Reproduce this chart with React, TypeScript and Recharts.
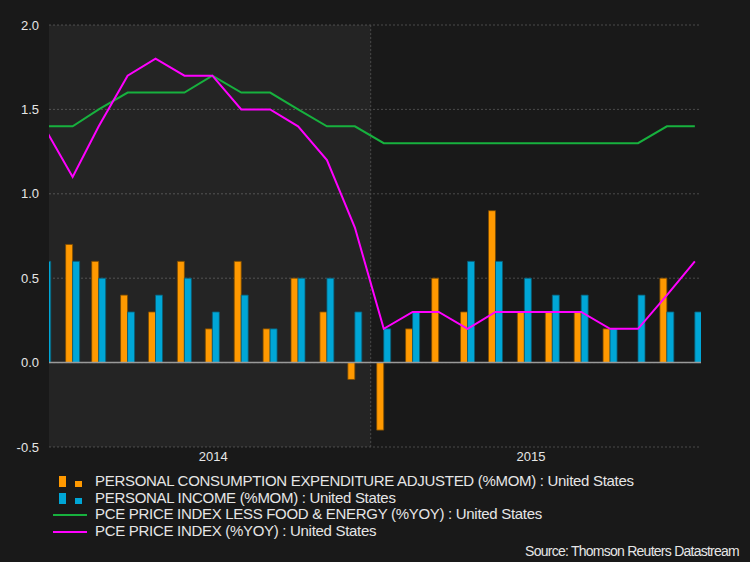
import { ComposedChart, Bar, Line, XAxis, YAxis, CartesianGrid, ReferenceArea, ReferenceLine } from 'recharts';

// months shown, Jan 2014 .. Dec 2015 (points sit mid-month)
const months = [
    '2014-01', '2014-02', '2014-03', '2014-04', '2014-05', '2014-06',
    '2014-07', '2014-08', '2014-09', '2014-10', '2014-11', '2014-12',
    '2015-01', '2015-02', '2015-03', '2015-04', '2015-05', '2015-06',
    '2015-07', '2015-08', '2015-09', '2015-10', '2015-11', '2015-12',
];

const pceMom = [0.4, 0.7, 0.6, 0.4, 0.3, 0.6, 0.2, 0.6, 0.2, 0.5, 0.3, -0.1, -0.4, 0.2, 0.5, 0.3, 0.9, 0.3, 0.3, 0.3, 0.2, 0, 0.5, null];
const incomeMom = [0.6, 0.6, 0.5, 0.3, 0.4, 0.5, 0.3, 0.4, 0.2, 0.5, 0.5, 0.3, 0.2, 0.3, 0, 0.6, 0.6, 0.5, 0.4, 0.4, 0.2, 0.4, 0.3, 0.3];
const coreYoy = [1.4, 1.4, 1.5, 1.6, 1.6, 1.6, 1.7, 1.6, 1.6, 1.5, 1.4, 1.4, 1.3, 1.3, 1.3, 1.3, 1.3, 1.3, 1.3, 1.3, 1.3, 1.3, 1.4, 1.4];
const pceYoy = [1.4, 1.1, 1.4, 1.7, 1.8, 1.7, 1.7, 1.5, 1.5, 1.4, 1.2, 0.8, 0.2, 0.3, 0.3, 0.2, 0.3, 0.3, 0.3, 0.3, 0.2, 0.2, 0.4, 0.6];

const yTicks = [-0.5, 0, 0.5, 1, 1.5, 2];
const years = ['2014', '2015'];

const legendItems = [
    { label: 'PERSONAL CONSUMPTION EXPENDITURE ADJUSTED (%MOM) : United States', color: '#ff9900', kind: 'bar' },
    { label: 'PERSONAL INCOME (%MOM) : United States', color: '#00a6d6', kind: 'bar' },
    { label: 'PCE PRICE INDEX LESS FOOD & ENERGY (%YOY) : United States', color: '#17b13e', kind: 'line' },
    { label: 'PCE PRICE INDEX (%YOY) : United States', color: '#ff00ff', kind: 'line' },
];

const DAY = 86400000;
const T0 = Date.UTC(2014, 0, 1);
const dayOf = (ym: string) => {
    const [y, m] = ym.split('-').map(Number);
    return (Date.UTC(y, m - 1, 15) - T0) / DAY;
};

// visible window in days since 1 Jan 2014 (chart is cut a bit into Jan 2014)
const XMIN = 19.6;
const XMAX = 719.6;
const YEAR_SPLIT = 365;
// where the year labels sit (days)
const yearTicks = [196, 537];

const data = months.map((m, i) => ({
    t: dayOf(m),
    pce: pceMom[i],
    income: incomeMom[i],
    core: coreYoy[i],
    yoy: pceYoy[i],
}));

const font = '"Liberation Sans", Arial, sans-serif';

export default function App() {
    return (
        <div style={{ position: 'fixed', left: 0, top: 0, width: 750, height: 562, background: '#191919', fontFamily: font, overflow: 'hidden' }}>
            <ComposedChart
                width={750}
                height={480}
                data={data}
                margin={{ top: 25, right: 49, left: 8, bottom: 3 }}
                barGap={0}
                barSize={7}
            >
                <ReferenceArea x1={XMIN} x2={YEAR_SPLIT} y1={-0.5} y2={2} fill="#ffffff" fillOpacity={0.05} stroke="none" />
                <CartesianGrid vertical={false} stroke="#4a4a4a" strokeDasharray="2 2" />
                <ReferenceLine x={YEAR_SPLIT} stroke="#4a4a4a" strokeDasharray="2 2" />
                <XAxis
                    dataKey="t"
                    type="number"
                    domain={[XMIN, XMAX]}
                    allowDataOverflow
                    ticks={yearTicks}
                    tickFormatter={(v: number) => (v < YEAR_SPLIT ? years[0] : years[1])}
                    axisLine={false}
                    tickLine={false}
                    tickSize={0}
                    tickMargin={5}
                    height={30}
                    tick={{ fill: '#e6e6e6', fontSize: 13, fontFamily: font }}
                />
                <YAxis
                    domain={[-0.5, 2]}
                    ticks={yTicks}
                    tickFormatter={(v: number) => v.toFixed(1)}
                    axisLine={false}
                    tickLine={false}
                    tickSize={0}
                    tickMargin={10}
                    width={41}
                    tick={{ fill: '#e6e6e6', fontSize: 13, fontFamily: font }}
                />
                <ReferenceLine y={0} stroke="#9a9a9a" strokeWidth={1.5} />
                <Bar dataKey="pce" fill="#ff9900" stroke="#7a4a00" strokeWidth={0.8} isAnimationActive={false} />
                <Bar dataKey="income" fill="#00a6d6" stroke="#0a5a72" strokeWidth={0.8} isAnimationActive={false} />
                <Line type="linear" dataKey="core" stroke="#17b13e" strokeWidth={2} dot={false} isAnimationActive={false} />
                <Line type="linear" dataKey="yoy" stroke="#ff00ff" strokeWidth={2} dot={false} isAnimationActive={false} />
            </ComposedChart>

            <div style={{ position: 'absolute', left: 0, top: 473, color: '#e6e6e6', fontSize: 15, letterSpacing: -0.3 }}>
                {legendItems.map((it) => (
                    <div key={it.label} style={{ position: 'relative', height: 16.5, lineHeight: '16.5px', paddingLeft: 95, whiteSpace: 'nowrap' }}>
                        {it.kind === 'bar' ? (
                            <>
                                <span style={{ position: 'absolute', left: 59, top: 3, width: 7, height: 11, background: it.color }} />
                                <span style={{ position: 'absolute', left: 75, top: 8, width: 7, height: 6, background: it.color }} />
                            </>
                        ) : (
                            <span style={{ position: 'absolute', left: 53, top: 8, width: 34, height: 2, background: it.color }} />
                        )}
                        {it.label}
                    </div>
                ))}
            </div>
            <div style={{ position: 'absolute', right: 11, top: 543, color: '#e6e6e6', fontSize: 14, letterSpacing: -0.75 }}>
                Source: Thomson Reuters Datastream
            </div>
        </div>
    );
}
